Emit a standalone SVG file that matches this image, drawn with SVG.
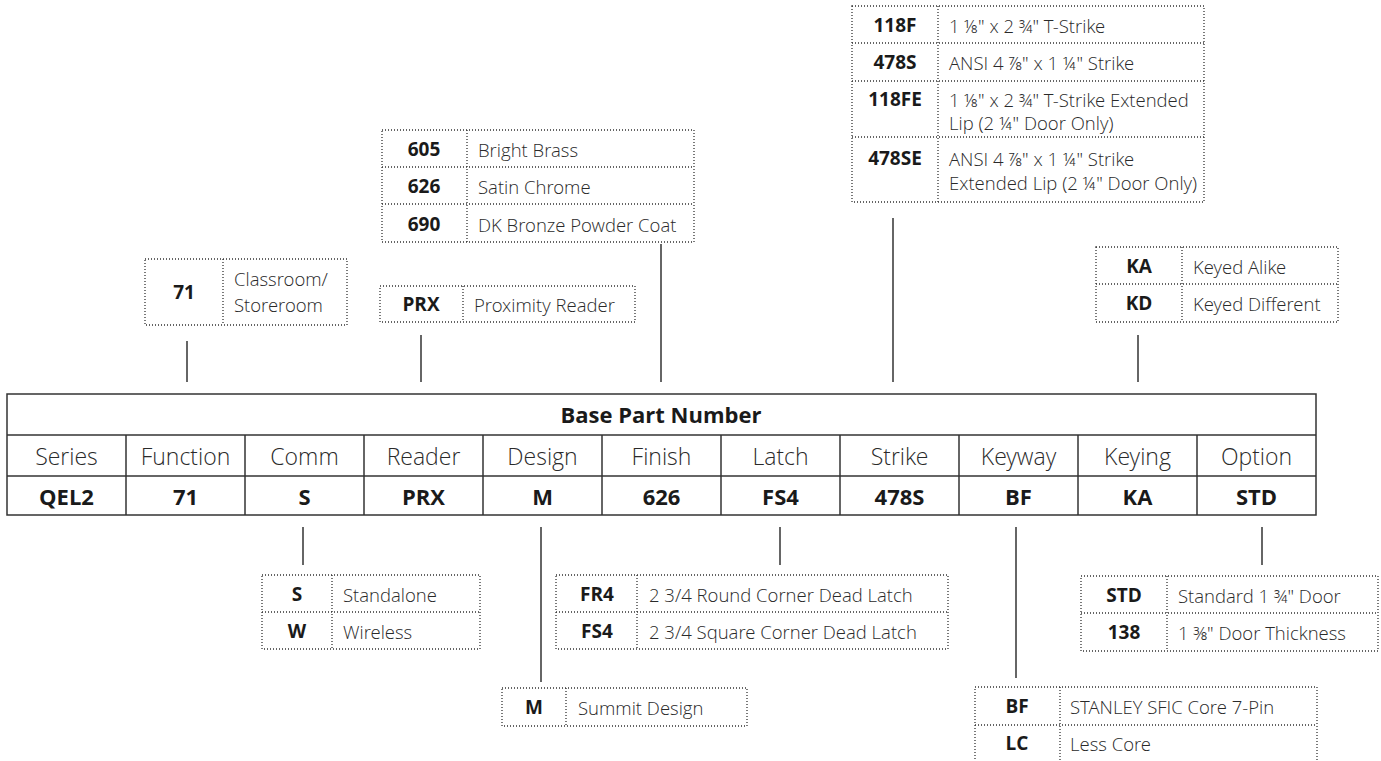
<svg xmlns="http://www.w3.org/2000/svg" width="1381" height="761" viewBox="0 0 1381 761">
<style>
text{font-family:"Open Sans","Liberation Sans",sans-serif;fill:#1a1a1a}
.c{font-weight:700;font-size:19px;text-anchor:middle;dominant-baseline:central}
.d{font-family:"Open Sans Light","Open Sans","Liberation Sans",sans-serif;font-weight:300;font-size:18.5px;dominant-baseline:central;fill:#2a2a2a}
.dot{fill:none;stroke:#333;stroke-width:1.3;stroke-dasharray:1 2}
.tb{fill:none;stroke:#333;stroke-width:1.5}
.lbl{font-family:"Open Sans Light","Open Sans","Liberation Sans",sans-serif;font-weight:300;font-size:23px;text-anchor:middle;dominant-baseline:central;fill:#2a2a2a}
.val{font-weight:700;font-size:22px;text-anchor:middle;dominant-baseline:central}
.conn line{stroke:#333;stroke-width:1.5}
</style>
<rect width="1381" height="761" fill="#fff"/>

<g id="connectors" class="conn">
<line x1="187" y1="341" x2="187" y2="382"/>
<line x1="421" y1="335" x2="421" y2="382"/>
<line x1="661" y1="244" x2="661" y2="382"/>
<line x1="893" y1="218" x2="893" y2="382"/>
<line x1="1138" y1="335" x2="1138" y2="382"/>
<line x1="303" y1="527" x2="303" y2="565"/>
<line x1="541" y1="527" x2="541" y2="682"/>
<line x1="780" y1="527" x2="780" y2="565"/>
<line x1="1016" y1="527" x2="1016" y2="678"/>
<line x1="1262" y1="527" x2="1262" y2="565"/>
</g>

<g id="main-table">
<rect class="tb" x="7" y="394" width="1309" height="121"/>
<line class="tb" x1="7" y1="435" x2="1316" y2="435"/>
<line class="tb" x1="7" y1="476" x2="1316" y2="476"/>
<g class="tb">
<line x1="126" y1="435" x2="126" y2="515"/><line x1="245" y1="435" x2="245" y2="515"/>
<line x1="364" y1="435" x2="364" y2="515"/><line x1="483" y1="435" x2="483" y2="515"/>
<line x1="602" y1="435" x2="602" y2="515"/><line x1="721" y1="435" x2="721" y2="515"/>
<line x1="840" y1="435" x2="840" y2="515"/><line x1="959" y1="435" x2="959" y2="515"/>
<line x1="1078" y1="435" x2="1078" y2="515"/><line x1="1197" y1="435" x2="1197" y2="515"/>
</g>
<text x="661" y="414" class="val">Base Part Number</text>
<text x="66.5" y="456" class="lbl">Series</text>
<text x="185.5" y="456" class="lbl">Function</text>
<text x="304.5" y="456" class="lbl">Comm</text>
<text x="423.5" y="456" class="lbl">Reader</text>
<text x="542.5" y="456" class="lbl">Design</text>
<text x="661.5" y="456" class="lbl">Finish</text>
<text x="780.5" y="456" class="lbl">Latch</text>
<text x="899.5" y="456" class="lbl">Strike</text>
<text x="1018.5" y="456" class="lbl">Keyway</text>
<text x="1137.5" y="456" class="lbl">Keying</text>
<text x="1256.5" y="456" class="lbl">Option</text>
<text x="66.5" y="496" class="val">QEL2</text>
<text x="185.5" y="496" class="val">71</text>
<text x="304.5" y="496" class="val">S</text>
<text x="423.5" y="496" class="val">PRX</text>
<text x="542.5" y="496" class="val">M</text>
<text x="661.5" y="496" class="val">626</text>
<text x="780.5" y="496" class="val">FS4</text>
<text x="899.5" y="496" class="val">478S</text>
<text x="1018.5" y="496" class="val">BF</text>
<text x="1137.5" y="496" class="val">KA</text>
<text x="1256.5" y="496" class="val">STD</text>
</g>

<g id="function-options">
<rect class="dot" x="145" y="259" width="202" height="66"/>
<line class="dot" x1="223" y1="259" x2="223" y2="325"/>
<text x="184" y="292" class="c">71</text>
<text x="234" y="278" class="d">Classroom/</text>
<text x="234" y="304" class="d">Storeroom</text>
</g>

<g id="reader-options">
<rect class="dot" x="380" y="286" width="255" height="36"/>
<line class="dot" x1="463" y1="286" x2="463" y2="322"/>
<text x="421" y="304" class="c">PRX</text>
<text x="474" y="304" class="d">Proximity Reader</text>
</g>

<g id="finish-options">
<rect class="dot" x="382" y="130" width="312" height="112"/>
<line class="dot" x1="382" y1="167" x2="694" y2="167"/>
<line class="dot" x1="382" y1="204" x2="694" y2="204"/>
<line class="dot" x1="467" y1="130" x2="467" y2="242"/>
<text x="424" y="149" class="c">605</text><text x="478" y="149" class="d">Bright Brass</text>
<text x="424" y="186" class="c">626</text><text x="478" y="186" class="d">Satin Chrome</text>
<text x="424" y="224" class="c">690</text><text x="478" y="224" class="d">DK Bronze Powder Coat</text>
</g>

<g id="strike-options">
<rect class="dot" x="852" y="6" width="352" height="196"/>
<line class="dot" x1="852" y1="43" x2="1204" y2="43"/>
<line class="dot" x1="852" y1="81" x2="1204" y2="81"/>
<line class="dot" x1="852" y1="137" x2="1204" y2="137"/>
<line class="dot" x1="938" y1="6" x2="938" y2="202"/>
<text x="895" y="25" class="c">118F</text><text x="949" y="25" class="d">1 ⅛" x 2 ¾" T-Strike</text>
<text x="895" y="62" class="c">478S</text><text x="949" y="62" class="d">ANSI 4 ⅞" x 1 ¼" Strike</text>
<text x="895" y="99" class="c">118FE</text><text x="949" y="99" class="d">1 ⅛" x 2 ¾" T-Strike Extended</text>
<text x="949" y="122" class="d">Lip (2 ¼" Door Only)</text>
<text x="895" y="158" class="c">478SE</text><text x="949" y="158" class="d">ANSI 4 ⅞" x 1 ¼" Strike</text>
<text x="949" y="182" class="d">Extended Lip (2 ¼" Door Only)</text>
</g>

<g id="keying-options">
<rect class="dot" x="1096" y="247" width="242" height="75"/>
<line class="dot" x1="1096" y1="284" x2="1338" y2="284"/>
<line class="dot" x1="1182" y1="247" x2="1182" y2="322"/>
<text x="1139" y="266" class="c">KA</text><text x="1193" y="266" class="d">Keyed Alike</text>
<text x="1139" y="303" class="c">KD</text><text x="1193" y="303" class="d">Keyed Different</text>
</g>

<g id="comm-options">
<rect class="dot" x="262" y="575" width="218" height="74"/>
<line class="dot" x1="262" y1="612" x2="480" y2="612"/>
<line class="dot" x1="332" y1="575" x2="332" y2="649"/>
<text x="297" y="594" class="c">S</text><text x="343" y="594" class="d">Standalone</text>
<text x="297" y="631" class="c">W</text><text x="343" y="631" class="d">Wireless</text>
</g>

<g id="design-options">
<rect class="dot" x="502" y="688" width="245" height="38"/>
<line class="dot" x1="566" y1="688" x2="566" y2="726"/>
<text x="534" y="707" class="c">M</text><text x="578" y="707" class="d">Summit Design</text>
</g>

<g id="latch-options">
<rect class="dot" x="556" y="575" width="392" height="74"/>
<line class="dot" x1="556" y1="612" x2="948" y2="612"/>
<line class="dot" x1="637" y1="575" x2="637" y2="649"/>
<text x="597" y="594" class="c">FR4</text><text x="649" y="594" class="d">2 3/4 Round Corner Dead Latch</text>
<text x="597" y="631" class="c">FS4</text><text x="649" y="631" class="d">2 3/4 Square Corner Dead Latch</text>
</g>

<g id="keyway-options">
<rect class="dot" x="975" y="687" width="342" height="78"/>
<line class="dot" x1="975" y1="725" x2="1317" y2="725"/>
<line class="dot" x1="1060" y1="687" x2="1060" y2="765"/>
<text x="1017" y="706" class="c">BF</text><text x="1070" y="706" class="d">STANLEY SFIC Core 7-Pin</text>
<text x="1017" y="743" class="c">LC</text><text x="1070" y="743" class="d">Less Core</text>
</g>

<g id="option-options">
<rect class="dot" x="1081" y="576" width="297" height="75"/>
<line class="dot" x1="1081" y1="613" x2="1378" y2="613"/>
<line class="dot" x1="1167" y1="576" x2="1167" y2="651"/>
<text x="1124" y="595" class="c">STD</text><text x="1178" y="595" class="d">Standard 1 ¾" Door</text>
<text x="1124" y="632" class="c">138</text><text x="1178" y="632" class="d">1 ⅜" Door Thickness</text>
</g>
</svg>
